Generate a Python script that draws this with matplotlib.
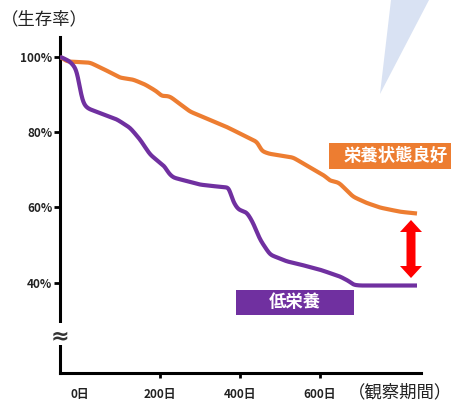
import numpy as np
import matplotlib
matplotlib.use("Agg")
import matplotlib.pyplot as plt
from matplotlib.patches import Polygon, Rectangle

plt.rcParams['font.family'] = ['Noto Sans CJK JP', 'DejaVu Sans']

# ---- data (days, survival %) ----
good_days = [-50, -32.5, 25, 62.5, 100, 132.5, 162.5, 192.5, 205, 212.5, 225, 275, 365,
             445, 452.5, 472.5, 532.5, 615, 622.5, 632.5, 647.5, 682.5, 715, 750, 800, 842.5]
good_vals = [100, 98.7, 98.4, 96.5, 94.4, 93.9, 92.6, 90.7, 89.4, 89.6, 89.4, 85.4, 81.4,
             77.2, 75.0, 74.2, 73.2, 68.1, 67.1, 66.9, 66.5, 62.8, 61.2, 59.9, 58.8, 58.3]

low_days = [-50, -25, -7.5, 0, 7.5, 20, 32.5, 92.5, 125, 150, 175, 200, 212.5, 220, 232.5,
            300, 367.5, 372.5, 380, 395, 417.5, 432.5, 450, 475, 517.5, 550, 600, 650,
            675, 682.5, 700, 842.5]
low_vals = [100, 98.7, 96.5, 91.2, 87.5, 86.2, 85.7, 83.3, 81.1, 78.0, 74.0, 71.8, 70.8, 69.2, 67.9,
            66.0, 65.2, 65.7, 62.0, 59.4, 58.6, 55.9, 51.4, 47.4, 45.6, 44.8, 43.4, 41.6,
            40.2, 39.4, 39.2, 39.2]

x_ticks = [0, 200, 400, 600]
x_labels = ['0日', '200日', '400日', '600日']
y_ticks = [40, 60, 80, 100]
y_labels = ['40%', '60%', '80%', '100%']

label_good = '栄養状態良好'
label_low = '低栄養'
y_title = '（生存率）'
x_title = '（観察期間）'

ORANGE = '#ED7D31'
PURPLE = '#7030A0'

W, H = 452, 403
fig = plt.figure(figsize=(W / 100, H / 100), dpi=100)

def px(x, y):
    return (x / W, 1 - y / H)

def smooth_line(xs, ys, sigma=5.0):
    """Resample the read points densely and soften the corners for drawing."""
    xd = np.linspace(xs[0], xs[-1], 1800)
    yd = np.interp(xd, xs, ys)
    step = xd[1] - xd[0]
    r = int(3 * sigma / step)
    k = np.exp(-0.5 * (np.arange(-r, r + 1) * step / sigma) ** 2)
    k /= k.sum()
    yp = np.pad(yd, r, mode='edge')
    return xd, np.convolve(yp, k, mode='valid')

# light blue wedge at top
fig.patches.append(Polygon([px(391, 0), px(429, 0), px(380, 94)], closed=True,
                           transform=fig.transFigure, facecolor='#D9E2F3', edgecolor='none', zorder=0))

ax = fig.add_axes([60 / W, 1 - 372.5 / H, (421 - 60) / W, (372.5 - 37) / H])
ax.set_facecolor('none')
ax.set_xlim(-50, 852.5)
ax.set_ylim(16.1, 105.2)

gx, gy = smooth_line(good_days, good_vals)
lx, ly = smooth_line(low_days, low_vals)
ax.plot(gx, gy, color=ORANGE, lw=3.0, solid_joinstyle='round', solid_capstyle='butt', zorder=3)
ax.plot(lx, ly, color=PURPLE, lw=3.0, solid_joinstyle='round', solid_capstyle='butt', zorder=3)

for s in ['top', 'right']:
    ax.spines[s].set_visible(False)
for s in ['left', 'bottom']:
    ax.spines[s].set_linewidth(2.2)

ax.set_xticks(x_ticks)
ax.set_xticklabels(x_labels, fontsize=8.5, fontweight='bold', color='#222222')
ax.set_yticks(y_ticks)
ax.set_yticklabels(y_labels, fontsize=8.5, fontweight='bold', color='#222222')
ax.tick_params(axis='y', direction='out', length=4, width=2, pad=1.5)
ax.tick_params(axis='x', direction='out', length=3.5, width=2, pad=8)
ax.xaxis.get_major_ticks()[0].tick1line.set_visible(False)

# axis break
fig.patches.append(Rectangle(px(50, 345), 22 / W, 22 / H, transform=fig.transFigure,
                             facecolor='white', edgecolor='none', zorder=5))
fig.text(*px(60, 336), '≈', fontsize=16, fontweight='bold', color='#333333',
         ha='center', va='center', family='DejaVu Sans', zorder=6)

# titles
fig.text(*px(1, 19), y_title, fontsize=12.5, ha='left', va='center', color='#222222')
fig.text(*px(452, 392), x_title, fontsize=12.5, ha='right', va='center', color='#222222')

# labels
fig.patches.append(Rectangle(px(329, 169), (452 - 329) / W, 26 / H, transform=fig.transFigure,
                             facecolor=ORANGE, edgecolor='none', zorder=4))
fig.text(*px(396, 156), label_good, fontsize=12.5, fontweight='bold', color='white',
         ha='center', va='center', zorder=5)
fig.patches.append(Rectangle(px(236, 315), (354 - 236) / W, 25 / H, transform=fig.transFigure,
                             facecolor=PURPLE, edgecolor='none', zorder=4))
fig.text(*px(295, 302), label_low, fontsize=12.5, fontweight='bold', color='white',
         ha='center', va='center', zorder=5)

# red double arrow
arrow = [(411, 220), (422, 232), (415.5, 232), (415.5, 266), (422, 266), (411, 278),
         (400, 266), (406.5, 266), (406.5, 232), (400, 232)]
fig.patches.append(Polygon([px(a, b) for a, b in arrow], closed=True, transform=fig.transFigure,
                           facecolor='#FF0000', edgecolor='none', zorder=4))

fig.savefig('out.png', dpi=100)
